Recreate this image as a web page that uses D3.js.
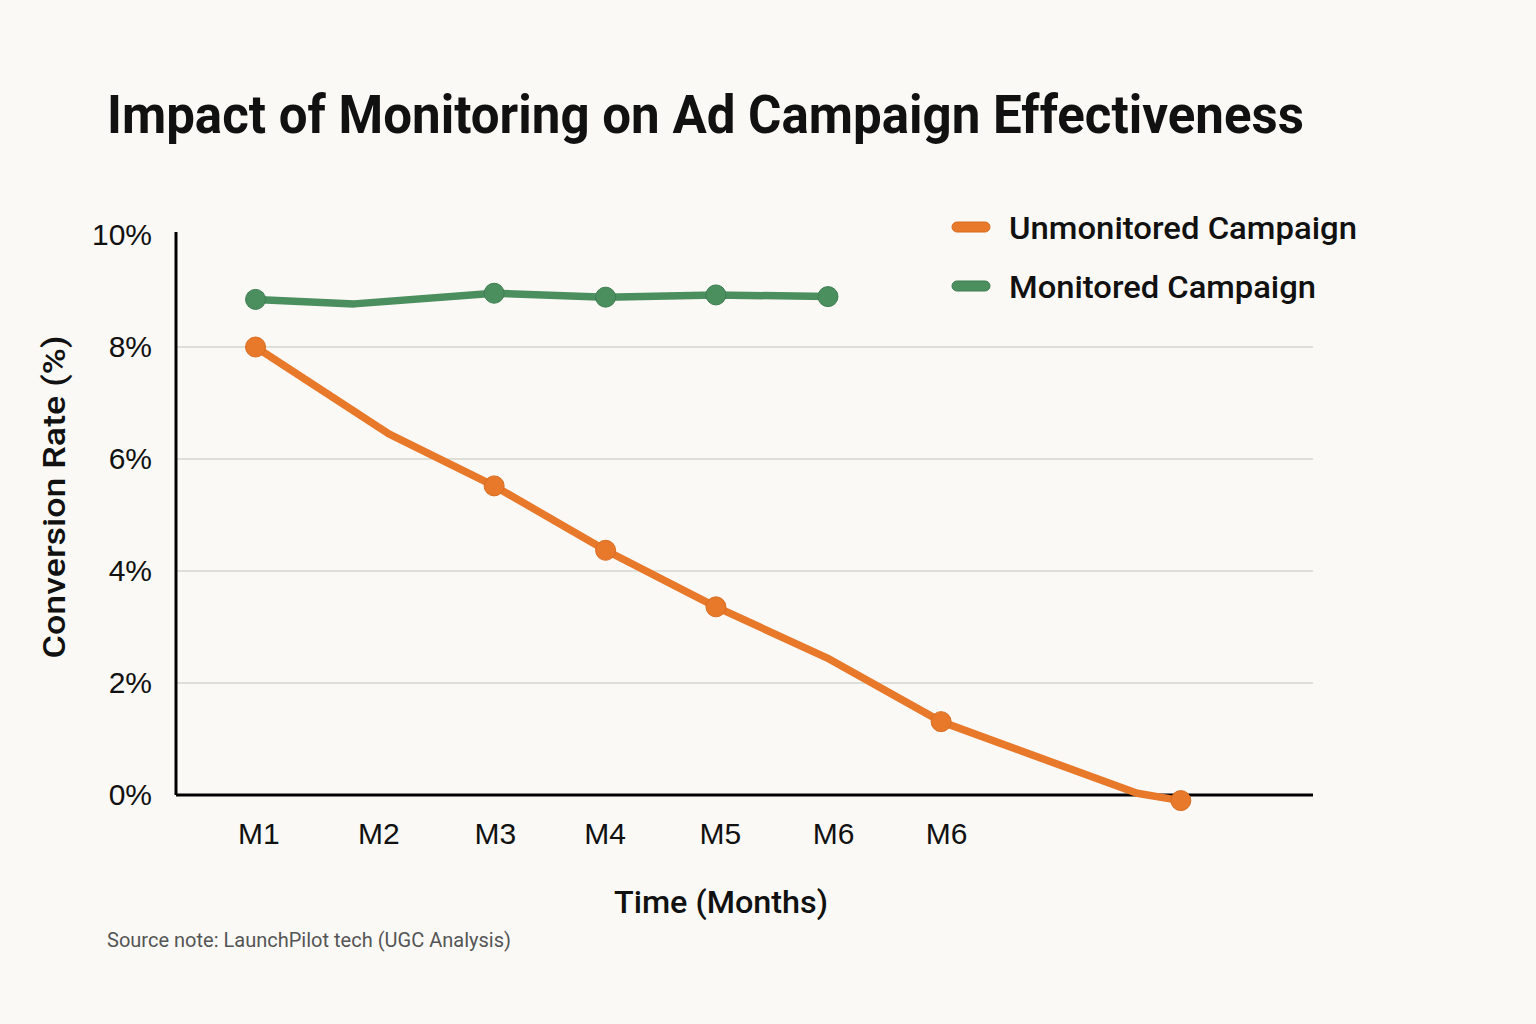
<!DOCTYPE html>
<html>
<head>
<meta charset="utf-8">
<script src="https://cdn.jsdelivr.net/npm/d3@7"></script>
<style>
  html, body { margin: 0; padding: 0; background: #faf9f5; }
  svg { display: block; }
</style>
</head>
<body>
<svg id="chart" width="1536" height="1024"></svg>
<script>
// values (x is position on the time axis, M1 = 1)
var monthLabels = ["M1", "M2", "M3", "M4", "M5", "M6", "M6"];
var labelPos = [1.03, 2.1, 3.14, 4.12, 5.15, 6.16, 7.17];
var yTicks = [0, 2, 4, 6, 8, 10];
var gridTicks = [2, 4, 6, 8];

var unmonitoredX = [1.0, 2.19, 3.13, 4.125, 5.11, 6.1, 7.12, 8.87, 9.26];
var unmonitoredY = [8.0, 6.45, 5.52, 4.37, 3.36, 2.45, 1.31, 0.03, -0.1];
var unmonitoredDots = [0, 2, 3, 4, 6, 8];

var monitoredX = [1.0, 1.88, 3.13, 4.125, 5.11, 6.11];
var monitoredY = [8.85, 8.77, 8.96, 8.89, 8.93, 8.9];
var monitoredDots = [0, 2, 3, 4, 5];

var seriesNames = ["Unmonitored Campaign", "Monitored Campaign"];
var colors = ["#e8792b", "#4b8f5f"];
var dotStroke = ["#d86d22", "#3f7d52"];

var margin = { top: 235, right: 223, bottom: 229, left: 176 }
var W = 1536, H = 1024
var width = W - margin.left - margin.right,
    height = H - margin.top - margin.bottom;

var svg = d3.select("#chart")
svg.append("rect").attr("width", W).attr("height", H).attr("fill", "#faf9f5")

var g = svg.append("g").attr("transform", "translate(" + margin.left + "," + margin.top + ")")

var x = d3.scaleLinear().domain([0.29, 10.44]).range([0, width])
var y = d3.scaleLinear().domain([0, 10]).range([height, 0])

// gridlines
g.selectAll(".grid")
    .data(gridTicks)
    .enter()
    .append("line")
    .attr("x1", 0)
    .attr("x2", width)
    .attr("y1", function (d) { return y(d); })
    .attr("y2", function (d) { return y(d); })
    .attr("stroke", "#dfdfd9")
    .attr("stroke-width", 2)

// y axis
var yAxis = g.append("g")
    .call(d3.axisLeft(y).tickValues(yTicks).tickSize(0).tickPadding(24).tickFormat(function (d) { return d + "%"; }))
yAxis.select(".domain").remove()
yAxis.selectAll("text")
    .attr("font-family", "'Liberation Sans', Arial, sans-serif")
    .attr("font-size", 30)
    .attr("fill", "#111")
g.append("line")
    .attr("x1", 0).attr("x2", 0)
    .attr("y1", y(0)).attr("y2", y(10) - 3)
    .attr("stroke", "#000").attr("stroke-width", 3)

// x axis
g.append("line")
    .attr("x1", 0).attr("x2", width)
    .attr("y1", y(0)).attr("y2", y(0))
    .attr("stroke", "#000").attr("stroke-width", 3)
g.selectAll(".xlab")
    .data(monthLabels)
    .enter()
    .append("text")
    .attr("x", function (d, i) { return x(labelPos[i]); })
    .attr("y", height + 49)
    .attr("text-anchor", "middle")
    .attr("font-family", "'Liberation Sans', Arial, sans-serif")
    .attr("font-size", 30)
    .attr("fill", "#111")
    .text(function (d) { return d; })

// lines
var line = d3.line()
    .x(function (d) { return x(d[0]); })
    .y(function (d) { return y(d[1]); })

var series = [
    { xs: unmonitoredX, ys: unmonitoredY, dots: unmonitoredDots },
    { xs: monitoredX, ys: monitoredY, dots: monitoredDots }
]

series.forEach(function (s, k) {
    var pts = s.xs.map(function (v, i) { return [v, s.ys[i]]; })
    g.append("path")
        .datum(pts)
        .attr("d", line)
        .attr("fill", "none")
        .attr("stroke", colors[k])
        .attr("stroke-width", 7.5)
        .attr("stroke-linejoin", "round")
        .attr("stroke-linecap", "round")
    g.selectAll(".dot" + k)
        .data(s.dots.map(function (i) { return pts[i]; }))
        .enter()
        .append("circle")
        .attr("cx", function (d) { return x(d[0]); })
        .attr("cy", function (d) { return y(d[1]); })
        .attr("r", 10)
        .attr("fill", colors[k])
        .attr("stroke", dotStroke[k])
        .attr("stroke-width", 1)
})

// legend
var legend = svg.append("g").attr("transform", "translate(952,227)")
seriesNames.forEach(function (name, i) {
    legend.append("rect")
        .attr("x", 0).attr("y", i * 59 - 5)
        .attr("width", 38).attr("height", 10)
        .attr("rx", 5)
        .attr("fill", colors[i])
        .attr("stroke", dotStroke[i])
        .attr("stroke-width", 1)
    legend.append("text")
        .attr("x", 57).attr("y", i * 59 + 12)
        .attr("font-family", "Roboto, sans-serif")
        .attr("font-weight", 500)
        .attr("font-size", 32)
        .attr("fill", "#111")
        .attr("textLength", i == 0 ? 348 : 307)
        .attr("lengthAdjust", "spacingAndGlyphs")
        .text(name)
})

// title
svg.append("text")
    .attr("x", 107).attr("y", 133)
    .attr("font-family", "Roboto, sans-serif")
    .attr("font-weight", 700)
    .attr("font-size", 53)
    .attr("fill", "#111")
    .attr("textLength", 1197)
    .attr("lengthAdjust", "spacingAndGlyphs")
    .text("Impact of Monitoring on Ad Campaign Effectiveness")

// axis titles
svg.append("text")
    .attr("transform", "translate(65,497) rotate(-90)")
    .attr("text-anchor", "middle")
    .attr("font-family", "Roboto, sans-serif")
    .attr("font-weight", 500)
    .attr("font-size", 32)
    .attr("fill", "#111")
    .attr("textLength", 323)
    .attr("lengthAdjust", "spacingAndGlyphs")
    .text("Conversion Rate (%)")

svg.append("text")
    .attr("x", 721).attr("y", 913)
    .attr("text-anchor", "middle")
    .attr("font-family", "Roboto, sans-serif")
    .attr("font-weight", 500)
    .attr("font-size", 32)
    .attr("fill", "#111")
    .attr("textLength", 214)
    .attr("lengthAdjust", "spacingAndGlyphs")
    .text("Time (Months)")

// source note
svg.append("text")
    .attr("x", 107).attr("y", 947)
    .attr("font-family", "Roboto, sans-serif")
    .attr("font-size", 20)
    .attr("fill", "#555")
    .attr("textLength", 404)
    .attr("lengthAdjust", "spacingAndGlyphs")
    .text("Source note: LaunchPilot tech (UGC Analysis)")
</script>
</body>
</html>
